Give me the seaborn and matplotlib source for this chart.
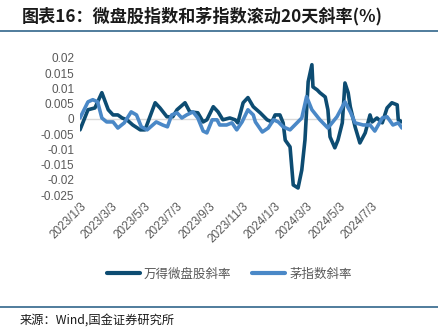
import matplotlib
matplotlib.use("Agg")
import matplotlib.pyplot as plt
import seaborn as sns
import pandas as pd
from matplotlib.lines import Line2D

# ---------------- data ----------------
micro_dates = ["2023-01-03", "2023-01-18", "2023-01-31", "2023-02-13", "2023-02-25", "2023-03-06",
               "2023-03-15", "2023-03-23", "2023-04-01", "2023-04-12", "2023-04-26", "2023-05-05",
               "2023-05-24", "2023-06-02", "2023-06-15", "2023-06-26", "2023-07-04", "2023-07-19",
               "2023-07-28", "2023-08-12", "2023-08-22", "2023-08-29", "2023-09-10", "2023-09-19",
               "2023-09-28", "2023-10-11", "2023-10-21", "2023-10-26", "2023-11-05", "2023-11-14",
               "2023-11-24", "2023-12-07", "2023-12-20", "2023-12-29", "2024-01-04", "2024-01-13",
               "2024-01-19", "2024-01-23", "2024-02-01", "2024-02-07", "2024-02-16", "2024-02-23",
               "2024-02-29", "2024-03-06", "2024-03-13", "2024-03-15", "2024-03-23", "2024-03-28",
               "2024-04-07", "2024-04-12", "2024-04-16", "2024-04-25", "2024-05-01", "2024-05-09",
               "2024-05-14", "2024-05-20", "2024-05-24", "2024-06-02", "2024-06-11", "2024-06-21",
               "2024-06-30", "2024-07-04", "2024-07-13", "2024-07-23", "2024-08-01", "2024-08-10",
               "2024-08-20", "2024-08-22", "2024-08-29"]
micro_vals = [-0.0036, 0.0030, 0.0036, 0.0086, 0.0030, 0.0013,
              0.0013, 0.0003, -0.0003, -0.0020, -0.0036, -0.0036,
              0.0053, 0.0036, 0.0007, 0.0007, 0.0030, 0.0053,
              0.0023, 0.0020, -0.0010, -0.0003, 0.0040, 0.0023,
              -0.0003, 0.0003, -0.0003, -0.0013, 0.0053, 0.0070,
              0.0040, 0.0020, -0.0003, -0.0010, 0.0013, 0.0013,
              -0.0013, -0.0070, -0.0092, -0.0217, -0.0227, -0.0168,
              -0.0069, 0.0122, 0.0178, 0.0105, 0.0095, 0.0086,
              0.0072, 0.0030, -0.0059, -0.0095, -0.0069, -0.0013,
              0.0118, 0.0086, 0.0040, -0.0026, -0.0079, -0.0046,
              0.0013, -0.0010, 0.0003, -0.0013, 0.0036, 0.0053,
              0.0046, -0.0003, -0.0010]

mao_dates = ["2023-01-03", "2023-01-18", "2023-01-27", "2023-02-05", "2023-02-13", "2023-02-22",
             "2023-03-06", "2023-03-15", "2023-03-27", "2023-04-09", "2023-04-19", "2023-04-28",
             "2023-05-09", "2023-05-26", "2023-06-07", "2023-06-16", "2023-06-24", "2023-07-04",
             "2023-07-13", "2023-07-22", "2023-08-03", "2023-08-12", "2023-08-22", "2023-08-29",
             "2023-09-08", "2023-09-17", "2023-09-22", "2023-10-05", "2023-10-15", "2023-10-24",
             "2023-11-03", "2023-11-14", "2023-11-24", "2023-11-28", "2023-12-11", "2023-12-22",
             "2024-01-01", "2024-01-10", "2024-01-19", "2024-02-01", "2024-02-14", "2024-02-23",
             "2024-03-03", "2024-03-13", "2024-03-28", "2024-04-12", "2024-04-29", "2024-05-14",
             "2024-05-24", "2024-06-02", "2024-06-17", "2024-06-30", "2024-07-09", "2024-07-23",
             "2024-08-01", "2024-08-12", "2024-08-22", "2024-08-29"]
mao_vals = [0.0003, 0.0056, 0.0063, 0.0056, 0.0003, -0.0010,
            -0.0010, -0.0030, -0.0013, 0.0023, 0.0013, -0.0026,
            -0.0036, -0.0010, -0.0020, -0.0026, 0.0013, 0.0020,
            0.0003, 0.0013, 0.0023, 0.0003, -0.0040, -0.0046,
            -0.0003, -0.0003, -0.0020, -0.0020, -0.0013, -0.0036,
            -0.0010, 0.0030, 0.0013, -0.0010, -0.0043, -0.0030,
            -0.0003, -0.0010, -0.0026, -0.0036, -0.0013, 0.0003,
            0.0073, 0.0030, -0.0003, -0.0030, 0.0007, 0.0056,
            0.0023, -0.0013, -0.0020, -0.0020, -0.0040, 0.0003,
            0.0007, -0.0020, -0.0013, -0.0030]

series_names = ["万得微盘股斜率", "茅指数斜率"]
ytick_vals = [0.02, 0.015, 0.01, 0.005, 0, -0.005, -0.01, -0.015, -0.02, -0.025]
ytick_labels = ["0.02", "0.015", "0.01", "0.005", "0", "-0.005", "-0.01", "-0.015", "-0.02", "-0.025"]
xtick_dates = ["2023-01-03", "2023-03-03", "2023-05-03", "2023-07-03", "2023-09-03",
               "2023-11-03", "2024-01-03", "2024-03-03", "2024-05-03", "2024-07-03"]
xtick_labels = ["2023/1/3", "2023/3/3", "2023/5/3", "2023/7/3", "2023/9/3",
                "2023/11/3", "2024/1/3", "2024/3/3", "2024/5/3", "2024/7/3"]
title = "图表16：微盘股指数和茅指数滚动20天斜率(%)"
source = "来源：Wind,国金证券研究所"

# ---------------- style ----------------
sns.set_theme(style="white")
plt.rcParams["font.family"] = ["Noto Sans CJK SC", "DejaVu Sans"]
plt.rcParams["axes.unicode_minus"] = False

dark = "#0D4C72"
light = "#4A88C7"
gray = "#595959"

df = pd.concat([
    pd.DataFrame({"date": pd.to_datetime(micro_dates), "value": micro_vals, "series": series_names[0]}),
    pd.DataFrame({"date": pd.to_datetime(mao_dates), "value": mao_vals, "series": series_names[1]}),
], ignore_index=True)

fig = plt.figure(figsize=(4.38, 3.33), dpi=100)
ax = fig.add_axes([80 / 438, 1 - 195 / 333, 322 / 438, 137 / 333])

ax.axhline(0, color="#D9D9D9", lw=1.0, zorder=1)
sns.lineplot(data=df, x="date", y="value", hue="series", palette=[dark, light],
             hue_order=series_names, linewidth=2.6, ax=ax, legend=False, zorder=3)

ax.set_ylim(-0.025, 0.02)
ax.set_xlim(pd.Timestamp("2023-01-03"), pd.Timestamp("2024-08-29"))
ax.set_yticks(ytick_vals)
ax.set_yticklabels(ytick_labels, fontsize=8.5, color=gray, family=["Liberation Sans", "DejaVu Sans"])
ax.set_xticks(pd.to_datetime(xtick_dates))
ax.set_xticklabels(xtick_labels, fontsize=8.5, color=gray, rotation=45, ha="right",
                   rotation_mode="anchor", family=["Liberation Sans", "DejaVu Sans"])
ax.tick_params(axis="both", length=0, pad=4)
ax.set_xlabel("")
ax.set_ylabel("")
for s in ax.spines.values():
    s.set_visible(False)
ax.grid(False)
ax.set_facecolor("none")

# legend
handles = [Line2D([], [], color=dark, lw=3), Line2D([], [], color=light, lw=3)]
fig.legend(handles, series_names, loc="center", bbox_to_anchor=(229 / 438, 1 - 274 / 333),
           ncol=2, frameon=False, fontsize=9, handlelength=2.7, handletextpad=0.3,
           columnspacing=1.6, labelcolor=gray)

# title and rules
fig.text(22 / 438, 1 - 16 / 333, title, fontsize=12.3, fontweight="bold", style="italic",
         color="#1A1A1A", va="center", ha="left")
fig.add_artist(Line2D([0, 1], [1 - 31 / 333, 1 - 31 / 333], color="#4F7C9C", lw=1.4))
fig.add_artist(Line2D([0, 1], [1 - 307 / 333, 1 - 307 / 333], color="#4F7C9C", lw=1.4))
fig.text(20 / 438, 1 - 320 / 333, source, fontsize=8.8, color="#1A1A1A", va="center", ha="left")

fig.savefig("out.png", dpi=100)
